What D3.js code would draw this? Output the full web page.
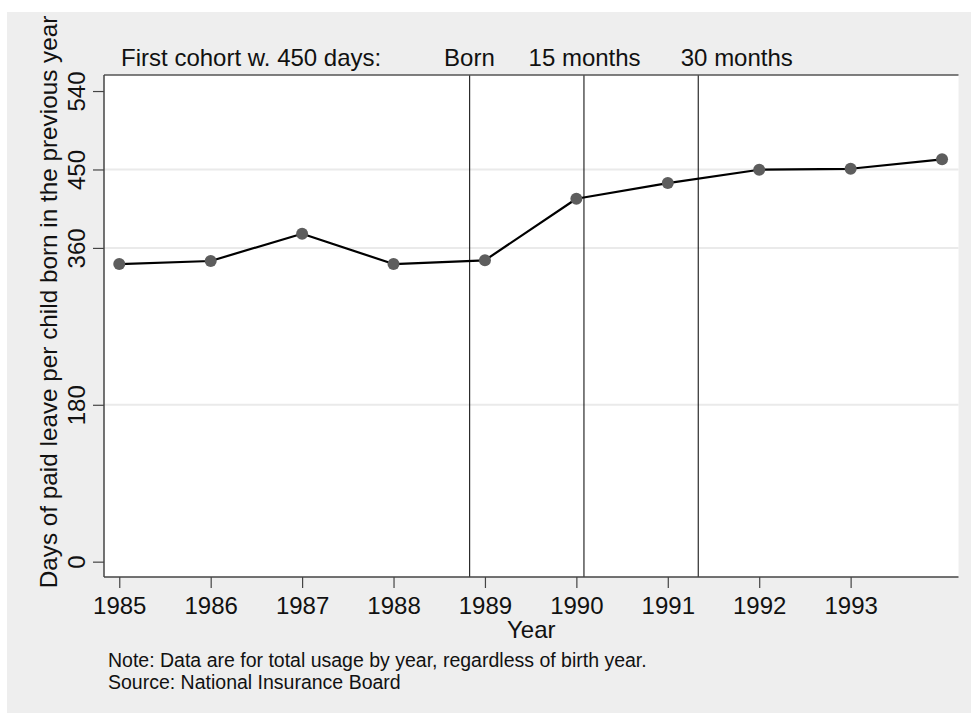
<!DOCTYPE html>
<html>
<head>
<meta charset="utf-8">
<script src="https://cdn.jsdelivr.net/npm/d3@7"></script>
<style>
  html, body { margin: 0; padding: 0; background: #ffffff; }
  svg { display: block; font-family: "Liberation Sans", Arial, sans-serif; }
</style>
</head>
<body>
<svg id="chart" width="971" height="713"></svg>
<script>
// ---- data ----
const years = [1985, 1986, 1987, 1988, 1989, 1990, 1991, 1992, 1993, 1994];
const daysOfLeave = [341.5, 345, 376.3, 341.5, 345.8, 416.4, 434.4, 449.7, 450.8, 461.6];
const xTickValues = [1985, 1986, 1987, 1988, 1989, 1990, 1991, 1992, 1993];
const yTickValues = [0, 180, 360, 450, 540];
const gridValues = [180, 360, 450];
const eventDates = [1988.833, 1990.083, 1991.333];
const eventLabels = ["Born", "15 months", "30 months"];
const eventLabelPos = [1988.83, 1990.09, 1991.755];
const headerLabel = "First cohort w. 450 days:";
const yTitle = "Days of paid leave per child born in the previous year";
const xTitle = "Year";
const notes = ["Note: Data are for total usage by year, regardless of birth year.",
               "Source: National Insurance Board"];

// ---- layout ----
const svg = d3.select("#chart");
const plot = { left: 104, right: 958.5, top: 75, bottom: 577 };

svg.append("rect").attr("x", 7).attr("y", 12).attr("width", 971 - 7).attr("height", 713 - 12)
  .attr("fill", "#eeeeee");

const x = d3.scaleLinear().domain([1984.833, 1994.18]).range([plot.left, plot.right]);
const y = d3.scaleLinear().domain([-17.6, 558.4]).range([plot.bottom, plot.top]);

svg.append("rect").attr("x", plot.left).attr("y", plot.top)
  .attr("width", plot.right - plot.left).attr("height", plot.bottom - plot.top)
  .attr("fill", "#ffffff");

// gridlines
svg.append("g").selectAll("line").data(gridValues).join("line")
  .attr("x1", plot.left).attr("x2", plot.right)
  .attr("y1", d => y(d)).attr("y2", d => y(d))
  .attr("stroke", "#eaeaea").attr("stroke-width", 2);

// event vertical lines
svg.append("g").selectAll("line").data(eventDates).join("line")
  .attr("x1", d => x(d)).attr("x2", d => x(d))
  .attr("y1", plot.top).attr("y2", plot.bottom)
  .attr("stroke", "#000").attr("stroke-width", 1);

// top border
svg.append("line").attr("x1", plot.left).attr("x2", plot.right)
  .attr("y1", plot.top).attr("y2", plot.top)
  .attr("stroke", "#555").attr("stroke-width", 1.5);

// axes
const xAxis = d3.axisBottom(x).tickValues(xTickValues).tickFormat(d3.format("d"))
  .tickSize(11).tickPadding(4);
const gx = svg.append("g").attr("transform", `translate(0,${plot.bottom})`).call(xAxis);
gx.select(".domain").attr("d", `M${plot.left},0H${plot.right}`).attr("stroke", "#444").attr("stroke-width", 1.5);
gx.selectAll(".tick line").attr("stroke", "#444").attr("stroke-width", 1.2);
gx.selectAll(".tick text").attr("font-size", 24).attr("fill", "#111")
  .attr("font-family", "Liberation Sans, Arial, sans-serif")
  .attr("y", null).attr("dy", null).attr("transform", null)
  .attr("y", 37);

const yAxis = d3.axisLeft(y).tickValues(yTickValues).tickFormat(d3.format("d"))
  .tickSize(11).tickPadding(4);
const gy = svg.append("g").attr("transform", `translate(${plot.left},0)`).call(yAxis);
gy.select(".domain").attr("d", `M0,${plot.top}V${plot.bottom}`).attr("stroke", "#444").attr("stroke-width", 1.5);
gy.selectAll(".tick line").attr("stroke", "#444").attr("stroke-width", 1.2);
gy.selectAll(".tick text").attr("font-size", 24).attr("fill", "#111")
  .attr("font-family", "Liberation Sans, Arial, sans-serif")
  .attr("x", null).attr("dy", null)
  .attr("text-anchor", "middle")
  .attr("transform", "translate(-19,0) rotate(-90)");

// line
const line = d3.line().x((d, i) => x(years[i])).y(d => y(d));
svg.append("path").datum(daysOfLeave).attr("d", line)
  .attr("fill", "none").attr("stroke", "#000").attr("stroke-width", 2.2)
  .attr("stroke-linejoin", "round");

svg.append("g").selectAll("circle").data(daysOfLeave).join("circle")
  .attr("cx", (d, i) => x(years[i])).attr("cy", d => y(d)).attr("r", 6)
  .attr("fill", "#5d5d5d");

// header annotations
svg.append("text").attr("x", x(1985.02)).attr("y", 65.5)
  .attr("font-size", 24).attr("fill", "#111").text(headerLabel);
svg.append("g").selectAll("text").data(eventLabels).join("text")
  .attr("x", (d, i) => x(eventLabelPos[i])).attr("y", 65.5)
  .attr("text-anchor", "middle").attr("font-size", 24).attr("fill", "#111")
  .text(d => d);

// titles
svg.append("text").attr("transform", `translate(57,302) rotate(-90)`)
  .attr("text-anchor", "middle").attr("font-size", 24.3).attr("fill", "#111").text(yTitle);
svg.append("text").attr("x", (plot.left + plot.right) / 2).attr("y", 638)
  .attr("text-anchor", "middle").attr("font-size", 24).attr("fill", "#111").text(xTitle);

// notes
svg.append("g").selectAll("text").data(notes).join("text")
  .attr("x", 108).attr("y", (d, i) => 666.5 + i * 22)
  .attr("font-size", 19.5).attr("fill", "#111").text(d => d);
</script>
</body>
</html>
